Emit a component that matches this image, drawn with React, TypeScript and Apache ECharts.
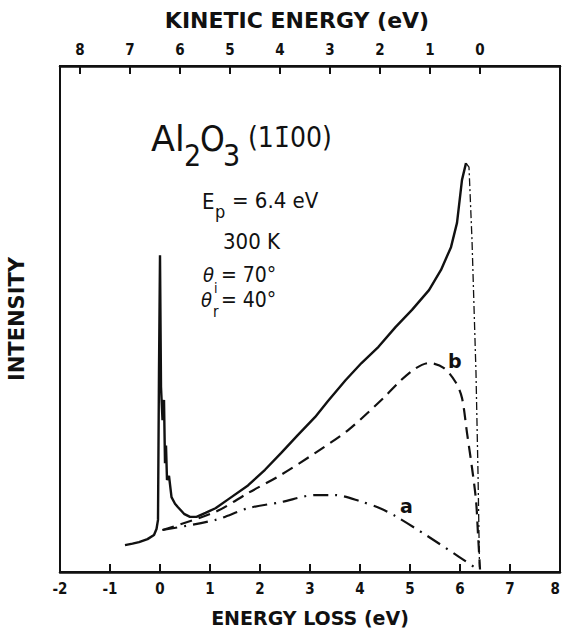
import React, { useEffect, useRef } from "react";
import * as echarts from "echarts";

const F = "'DejaVu Sans Condensed', 'DejaVu Sans', sans-serif";
const FW = "'DejaVu Sans', sans-serif";
const INK = "#111";

// Energy loss axis (bottom), eV
const lossMin = -2;
const lossMax = 8;
// Primary energy: kinetic energy = E_P - energy loss
const E_P = 6.4;
const kineticTicks = [8, 7, 6, 5, 4, 3, 2, 1, 0];

// Measured spectrum (energy loss eV, intensity arb. units)
const mainLoss = [-0.7, -0.55, -0.42, -0.25, -0.12, -0.07, -0.04, -0.02, 0.0, 0.02, 0.05, 0.08, 0.1, 0.12, 0.14, 0.18, 0.23, 0.3, 0.36, 0.48, 0.6, 0.73, 0.91, 1.11, 1.37, 1.76, 2.1, 2.42, 2.76, 3.1, 3.36, 3.71, 4.03, 4.37, 4.71, 5.04, 5.38, 5.62, 5.82, 5.94, 6.04, 6.12];
const mainIntensity = [5.3, 5.6, 5.9, 6.5, 7.3, 8.5, 10.3, 40, 62.6, 36.6, 30, 34, 21.5, 25, 18.2, 19, 14.8, 13.5, 12.8, 11.5, 10.9, 10.9, 11.7, 12.6, 14.4, 17.1, 20.2, 23.5, 27.1, 30.6, 33.8, 37.9, 41.3, 44.5, 48.4, 51.8, 55.7, 59.7, 64.2, 69.0, 77.5, 80.8];

// High-loss cut-off of the spectrum (dash-dot)
const dropLoss = [6.12, 6.18, 6.24, 6.32, 6.36, 6.39];
const dropIntensity = [80.8, 80.0, 65.6, 39.3, 19.6, 1.0];

// Calculated curve b (dashed)
const bLoss = [0.05, 1.11, 1.76, 2.42, 3.1, 3.77, 4.47, 4.82, 5.12, 5.38, 5.68, 5.92, 6.04, 6.14, 6.24, 6.32, 6.36, 6.4];
const bIntensity = [8.3, 11.9, 15.6, 19.2, 23.5, 28.1, 34.4, 37.9, 40.3, 41.3, 40.3, 37.4, 34.4, 27.5, 20.6, 14.2, 7.5, 0.5];

// Calculated curve a (dash-dot)
const aLoss = [0.05, 1.11, 1.76, 2.42, 3.1, 3.5, 4.03, 4.4, 4.7, 5.32, 5.98, 6.34];
const aIntensity = [8.3, 10.3, 12.6, 13.8, 15.2, 15.2, 13.9, 12.6, 11.1, 7.3, 3.0, 0.6];

const zip = (xs: number[], ys: number[]) => xs.map((x, i) => [x, ys[i]]);

export default function App() {
  const ref = useRef<HTMLDivElement>(null);
  useEffect(() => {
    if (!ref.current) return;
    const chart = echarts.init(ref.current, null, { renderer: "svg" });
    const kinPos = kineticTicks.map((k) => +(E_P - k).toFixed(2));
    const txt = (x: number, y: number, text: string, size: number, extra: any = {}) => ({
      type: "text",
      x,
      y,
      style: {
        text,
        fontSize: size,
        fontFamily: F,
        fill: INK,
        textAlign: "left",
        textVerticalAlign: "middle",
        ...extra,
      },
    });
    chart.setOption({
      animation: false,
      backgroundColor: "#fff",
      grid: {
        left: 60,
        right: 3,
        top: 66,
        bottom: 59,
        show: true,
        borderColor: INK,
        borderWidth: 2,
        containLabel: false,
        outerBoundsMode: "none",
      },
      xAxis: [
        {
          type: "value",
          min: lossMin,
          max: lossMax,
          interval: 1,
          position: "bottom",
          axisLine: { show: true, onZero: false, lineStyle: { color: INK, width: 2.5 } },
          axisTick: { show: true, inside: true, length: 8, lineStyle: { color: INK, width: 2 } },
          axisLabel: { margin: 9, fontSize: 15, fontWeight: "bold", color: INK, fontFamily: F, alignMaxLabel: "right" },
          splitLine: { show: false },
          name: "ENERGY LOSS (eV)",
          nameLocation: "middle",
          nameGap: 36,
          nameTextStyle: { fontSize: 19, fontWeight: "bold", color: INK, fontFamily: FW },
        },
        {
          type: "value",
          min: lossMin,
          max: lossMax,
          position: "top",
          axisLine: { show: true, onZero: false, lineStyle: { color: INK, width: 2.5 } },
          axisTick: { show: true, inside: true, length: 8, customValues: kinPos, lineStyle: { color: INK, width: 2 } },
          axisLabel: {
            margin: 9,
            fontSize: 15,
            fontWeight: "bold",
            color: INK,
            fontFamily: F,
            customValues: kinPos,
            formatter: (v: number) => String(Math.round(E_P - v)),
          },
          splitLine: { show: false },
        },
      ],
      yAxis: {
        type: "value",
        min: 0,
        max: 100,
        axisLine: { show: true, onZero: false, lineStyle: { color: INK, width: 2 } },
        axisTick: { show: false },
        axisLabel: { show: false },
        splitLine: { show: false },
        name: "INTENSITY",
        nameLocation: "middle",
        nameGap: 33,
        nameRotate: 90,
        nameTextStyle: { fontSize: 21, fontWeight: "bold", color: INK, fontFamily: FW },
      },
      series: [
        {
          type: "line",
          data: zip(mainLoss, mainIntensity),
          showSymbol: false,
          lineStyle: { color: INK, width: 2.4 },
          z: 5,
        },
        {
          type: "line",
          data: zip(dropLoss, dropIntensity),
          showSymbol: false,
          lineStyle: { color: INK, width: 1.3, type: [8, 3, 2, 3] },
        },
        {
          type: "line",
          data: zip(bLoss, bIntensity),
          showSymbol: false,
          smooth: 0.3,
          lineStyle: { color: INK, width: 2.2, type: [12, 7] },
        },
        {
          type: "line",
          data: zip(aLoss, aIntensity),
          showSymbol: false,
          smooth: 0.3,
          lineStyle: { color: INK, width: 2.2, type: [15, 7, 2, 7] },
        },
      ],
      graphic: [
        txt(297, 20, "KINETIC ENERGY (eV)", 22, { textAlign: "center", fontWeight: "bold", fontFamily: FW }),
        txt(151, 139, "Al", 35, { fontFamily: FW }),
        txt(184, 155, "2", 30),
        txt(200, 139, "O", 35),
        txt(223, 155, "3", 30),
        txt(248, 137, "(11\u030400)", 28),
        txt(202, 201, "E", 22),
        txt(215, 211, "p", 18),
        txt(232, 200, "= 6.4 eV", 22),
        txt(223, 241, "300 K", 22),
        txt(203, 275, "\u03b8", 20, { fontStyle: "italic" }),
        txt(214, 288, "i", 14),
        txt(221, 275, "= 70°", 21),
        txt(201, 300, "\u03b8", 20, { fontStyle: "italic" }),
        txt(213, 312, "r", 15),
        txt(221, 300, "= 40°", 21),
        txt(448, 361, "b", 19, { fontWeight: "bold", fontFamily: FW }),
        txt(400, 506, "a", 19, { fontWeight: "bold", fontFamily: FW }),
      ],
    });
    return () => chart.dispose();
  }, []);
  return <div ref={ref} style={{ position: "absolute", left: 0, top: 0, width: 563, height: 631 }} />;
}
